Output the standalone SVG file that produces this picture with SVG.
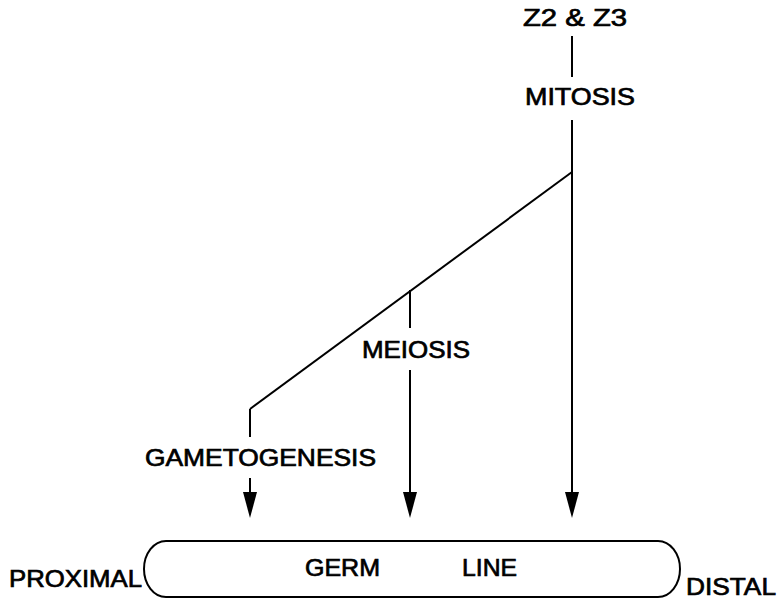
<svg xmlns="http://www.w3.org/2000/svg" width="777" height="600" viewBox="0 0 777 600">
<style>
text{font-family:"Liberation Sans",Arial,sans-serif;font-size:24px;fill:#000;stroke:#000;stroke-width:0.7}
.ln{stroke:#000;stroke-width:2;fill:none}
.ah{fill:#000}
</style>
<rect width="777" height="600" fill="#fff"/>
<g id="connectors">
<line class="ln" x1="572" y1="36" x2="572" y2="77"/>
<line class="ln" stroke-width="2.5" x1="572" y1="120" x2="572" y2="494"/>
<line class="ln" x1="572" y1="172" x2="250" y2="409"/>
<line class="ln" x1="410" y1="290" x2="410" y2="328"/>
<line class="ln" x1="410" y1="370" x2="410" y2="494"/>
<line class="ln" x1="250" y1="409" x2="250" y2="437"/>
<line class="ln" x1="250" y1="478" x2="250" y2="494"/>
<path class="ah" d="M565,492 L579,492 L572,518 Z"/>
<path class="ah" d="M403,492 L417,492 L410,518 Z"/>
<path class="ah" d="M243,492 L257,492 L250,518 Z"/>
</g>
<g id="z2z3"><text x="523" y="26" textLength="104" lengthAdjust="spacingAndGlyphs">Z2 &amp; Z3</text></g>
<g id="mitosis"><text x="525" y="105" textLength="110" lengthAdjust="spacingAndGlyphs">MITOSIS</text></g>
<g id="meiosis"><text x="362" y="358" textLength="108" lengthAdjust="spacingAndGlyphs">MEIOSIS</text></g>
<g id="gametogenesis"><text x="145" y="466" textLength="231" lengthAdjust="spacingAndGlyphs">GAMETOGENESIS</text></g>
<g id="germline">
<path class="ln" stroke-width="2.5" d="M166,541 L658,541 A22,28 0 0 1 658,597 L166,597 A22,28 0 0 1 166,541 Z"/>
<text x="305" y="576" textLength="75" lengthAdjust="spacingAndGlyphs">GERM</text>
<text x="462" y="576" textLength="55" lengthAdjust="spacingAndGlyphs">LINE</text>
</g>
<g id="proximal"><text x="9" y="587" textLength="133" lengthAdjust="spacingAndGlyphs">PROXIMAL</text></g>
<g id="distal"><text x="686" y="595" textLength="90" lengthAdjust="spacingAndGlyphs">DISTAL</text></g>
</svg>
